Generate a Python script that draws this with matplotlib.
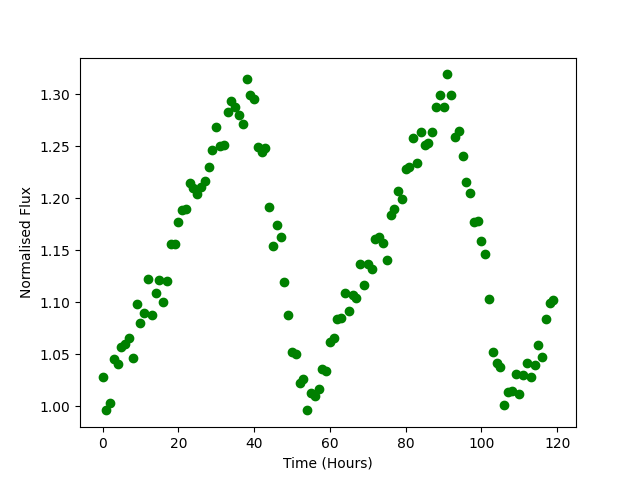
import numpy as np
import matplotlib
matplotlib.use("Agg")
import matplotlib.pyplot as plt

# Time in hours
hours = np.arange(120)

# Normalised flux
flux = [
    1.028, 0.996, 1.003, 1.045, 1.041, 1.057, 1.060, 1.066, 1.046, 1.098,
    1.080, 1.090, 1.122, 1.088, 1.109, 1.121, 1.100, 1.120, 1.156, 1.156,
    1.177, 1.189, 1.190, 1.215, 1.210, 1.204, 1.211, 1.217, 1.230, 1.246,
    1.268, 1.250, 1.251, 1.283, 1.293, 1.288, 1.280, 1.271, 1.315, 1.299,
    1.295, 1.249, 1.244, 1.248, 1.192, 1.154, 1.174, 1.163, 1.119, 1.088,
    1.052, 1.050, 1.022, 1.026, 0.996, 1.013, 1.010, 1.017, 1.036, 1.034,
    1.062, 1.066, 1.084, 1.085, 1.109, 1.092, 1.107, 1.104, 1.137, 1.117,
    1.137, 1.132, 1.161, 1.163, 1.157, 1.141, 1.184, 1.190, 1.207, 1.199,
    1.228, 1.230, 1.258, 1.234, 1.264, 1.251, 1.253, 1.264, 1.288, 1.299,
    1.288, 1.319, 1.299, 1.259, 1.265, 1.241, 1.216, 1.205, 1.177, 1.178,
    1.159, 1.146, 1.103, 1.052, 1.042, 1.038, 1.001, 1.014, 1.015, 1.031,
    1.012, 1.030, 1.042, 1.028, 1.040, 1.059, 1.047, 1.084, 1.099, 1.102,
]

plt.figure(figsize=(6.4, 4.8), dpi=100)

plt.plot(hours, flux, "o", color="green")

plt.xlabel("Time (Hours)")
plt.ylabel("Normalised Flux")

plt.savefig("out.png")
